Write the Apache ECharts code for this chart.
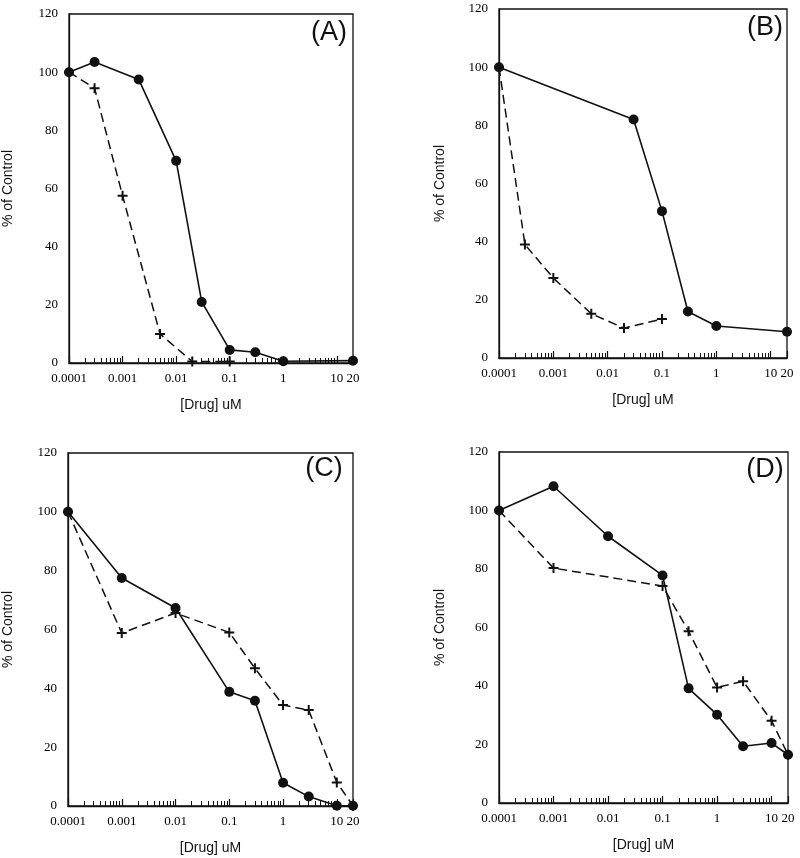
<!DOCTYPE html>
<html>
<head>
<meta charset="utf-8">
<script src="https://cdn.jsdelivr.net/npm/echarts@6/dist/echarts.min.js"></script>
<style>
html,body{margin:0;padding:0;background:#fff;}
#chart{width:800px;height:858px;}
</style>
</head>
<body>
<div id="chart"></div>
<script>
// ---- data (concentration in uM, % of control) ----
const xTickLabels = ['0.0001', '0.001', '0.01', '0.1', '1', '10', '20'];
const yTicks = [0, 20, 40, 60, 80, 100, 120];
const panelNames = ['(A)', '(B)', '(C)', '(D)'];

const concA_solid = [0.0001, 0.0003, 0.002, 0.01, 0.03, 0.1, 0.3, 1, 20];
const valA_solid  = [100, 103.5, 97.5, 69.5, 21, 4.5, 3.7, 0.6, 0.8];
const concA_dash  = [0.0001, 0.0003, 0.001, 0.005, 0.02, 0.1];
const valA_dash   = [100, 94.5, 57.5, 10, 0.5, 0.5];

const concB_solid = [0.0001, 0.03, 0.1, 0.3, 1, 20];
const valB_solid  = [100, 82, 50.5, 16, 11, 9];
const concB_dash  = [0.0001, 0.0003, 0.001, 0.005, 0.02, 0.1];
const valB_dash   = [100, 39, 27.5, 15.2, 10.3, 13.4];

const concC_solid = [0.0001, 0.001, 0.01, 0.1, 0.3, 1, 3, 10, 20];
const valC_solid  = [100, 77.5, 67.3, 38.8, 35.8, 7.9, 3.2, 0.1, 0.1];
const concC_dash  = [0.0001, 0.001, 0.01, 0.1, 0.3, 1, 3, 10, 20];
const valC_dash   = [100, 58.8, 65.6, 59, 46.8, 34.3, 32.6, 8, 0.1];

const concD_solid = [0.0001, 0.001, 0.01, 0.1, 0.3, 1, 3, 10, 20];
const valD_solid  = [100, 108.3, 91.2, 77.8, 39.2, 30.2, 19.4, 20.5, 16.5];
const concD_dash  = [0.0001, 0.001, 0.1, 0.3, 1, 3, 10, 20];
const valD_dash   = [100, 80.3, 74.2, 58.7, 39.5, 41.6, 28.1, 16.5];

const zip = (xs, ys) => xs.map((x, i) => [x, ys[i]]);
const panels = [
  [zip(concA_solid, valA_solid), zip(concA_dash, valA_dash)],
  [zip(concB_solid, valB_solid), zip(concB_dash, valB_dash)],
  [zip(concC_solid, valC_solid), zip(concC_dash, valC_dash)],
  [zip(concD_solid, valD_solid), zip(concD_dash, valD_dash)]
];

// ---- layout ----
const grids = [
  {left: 64, top: 14, width: 289, height: 349},
  {left: 499, top: 9, width: 288, height: 349},
  {left: 63, top: 453, width: 290, height: 353},
  {left: 499, top: 452, width: 289, height: 351}
];
const letterPos = [[329, 33], [765, 28], [324, 469], [765, 470]];
const yNameGap = [54, 52, 53, 52];

const INK = '#111';
const SERIF = '"Liberation Serif", "DejaVu Serif", serif';
const SANS = '"Liberation Sans", Arial, sans-serif';
const PLUS = 'path://M4,0 H6 V4 H10 V6 H6 V10 H4 V6 H0 V4 H4 Z';

function fmtX(v) {
  const r = Number(Number(v).toPrecision(6));
  const s = String(r);
  return xTickLabels.indexOf(s) >= 0 ? s : '';
}

const option = {
  backgroundColor: '#fff',
  animation: false,
  grid: grids.map(g => Object.assign({show: true, borderColor: INK, borderWidth: 1.3, backgroundColor: 'transparent'}, g)),
  xAxis: grids.map((g, i) => ({
    type: 'log', logBase: 10, gridIndex: i, min: 0.0001, max: 20,
    name: '[Drug] uM', nameLocation: 'middle', nameGap: 35,
    nameTextStyle: {fontFamily: SANS, fontSize: 14, color: INK},
    axisLine: {show: true, lineStyle: {color: INK, width: 1.3}},
    axisTick: {show: true, inside: true, length: 7, lineStyle: {color: INK, width: 1.2}},
    minorTick: {show: true, splitNumber: 9, length: 5, lineStyle: {color: INK, width: 1}},
    splitLine: {show: false}, minorSplitLine: {show: false},
    axisLabel: {show: true, showMinLabel: true, showMaxLabel: true, margin: 9,
      fontFamily: SERIF, fontSize: 13, color: '#000', formatter: fmtX}
  })),
  yAxis: grids.map((g, i) => ({
    type: 'value', gridIndex: i, min: yTicks[0], max: yTicks[yTicks.length - 1], interval: 20,
    name: '% of Control', nameLocation: 'middle', nameGap: yNameGap[i],
    nameTextStyle: {fontFamily: SANS, fontSize: 14, color: INK},
    axisLine: {show: true, lineStyle: {color: INK, width: 1.3}},
    axisTick: {show: false},
    splitLine: {show: false},
    axisLabel: {margin: 11, fontFamily: SERIF, fontSize: 13, color: '#000'}
  })),
  graphic: panelNames.map((t, i) => ({
    type: 'text', x: letterPos[i][0], y: letterPos[i][1], z: 10,
    style: {text: t, font: '27px ' + SANS, fill: INK,
      textAlign: 'center', textVerticalAlign: 'middle', align: 'center', verticalAlign: 'middle'}
  })),
  series: []
};

panels.forEach((p, i) => {
  option.series.push({
    type: 'line', xAxisIndex: i, yAxisIndex: i, data: p[1],
    symbol: PLUS, symbolSize: 10, clip: false,
    itemStyle: {color: INK},
    lineStyle: {color: INK, width: 1.5, type: [9, 5]}, z: 2
  });
  option.series.push({
    type: 'line', xAxisIndex: i, yAxisIndex: i, data: p[0],
    symbol: 'circle', symbolSize: 10, clip: false,
    itemStyle: {color: INK},
    lineStyle: {color: INK, width: 1.6}, z: 3
  });
});

const chart = echarts.init(document.getElementById('chart'), null, {renderer: 'canvas'});
chart.setOption(option);
</script>
</body>
</html>
